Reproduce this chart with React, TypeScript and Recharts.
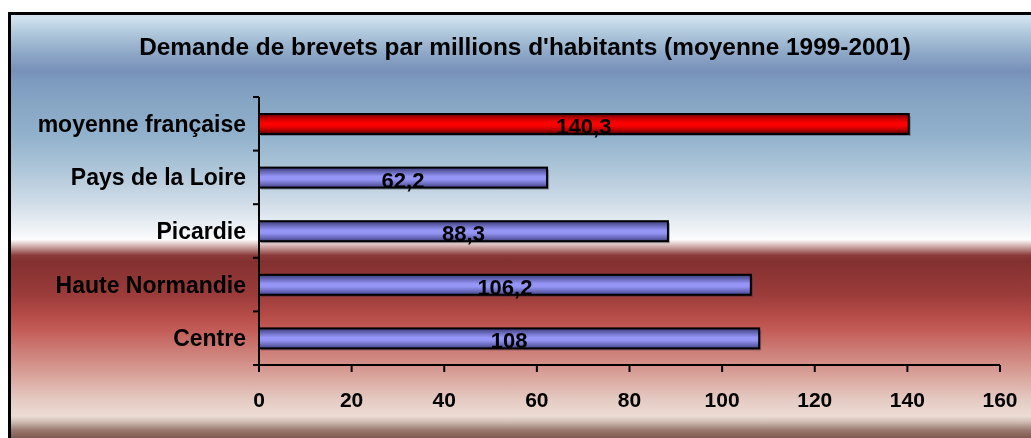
import { BarChart, Bar, XAxis, YAxis, LabelList } from 'recharts'

const categories = ['moyenne française', 'Pays de la Loire', 'Picardie', 'Haute Normandie', 'Centre']
const values = [140.3, 62.2, 88.3, 106.2, 108]
const highlighted = ['moyenne française']
const xTicks = [0, 20, 40, 60, 80, 100, 120, 140, 160]

const TITLE = "Demande de brevets par millions d'habitants (moyenne 1999-2001)"
const FONT = '"Liberation Sans", Arial, sans-serif'

const data = categories.map((name, i) => ({ name, value: values[i] }))

const BG = `linear-gradient(to bottom,
  #d0e2ee 0.7%, #b0c8dc 4.2%, #8ea8c8 8.9%, #7890b8 13.1%, #7e9cc0 16%,
  #86a6c4 20.7%, #90b0cc 27.7%, #a8c2d6 34.7%, #d0dce8 44.1%, #eef2f6 50%,
  #fcfcfc 52.6%, #f0e4e2 53.1%, #c09090 54.7%, #8a3a38 56.3%, #833030 57.7%,
  #9a3c3a 65.3%, #b44a46 70%, #c25a55 73.5%, #cc7a74 78.2%, #d8a098 84%,
  #e4cac2 90%, #ecdcd4 93.9%, #d0bcb4 95.3%, #9a7a70 97.2%, #704840 100%)`

const CAT_MARGIN = 13

function BarShape(props: any) {
  const { x, y, width, height, payload } = props
  const hot = highlighted.includes(payload.name)
  return (
    <g>
      <rect x={x + 2} y={y + 2} width={width} height={height} fill="rgba(40,40,60,0.35)" />
      <rect x={x} y={y} width={width} height={height}
        fill={hot ? 'url(#gradRed)' : 'url(#gradBlue)'} stroke="#000" strokeWidth={2} />
    </g>
  )
}

function ValueLabel(props: any) {
  const { x, y, width, height, value } = props
  return (
    <text x={x + width / 2} y={y + height / 2 + 10} textAnchor="middle"
      fontFamily={FONT} fontWeight="bold" fontSize={22} fill="#000">
      {String(value).replace('.', ',')}
    </text>
  )
}

// category label + tick marks on the band edges (ticks sit between categories)
function CatTick(props: any) {
  const { x, y, payload, index } = props
  const half = payload.offset ?? 0
  const ax = x + CAT_MARGIN
  const last = index === categories.length - 1
  return (
    <g>
      <line x1={ax - 6} x2={ax} y1={y - half} y2={y - half} stroke="#000" strokeWidth={2} />
      {last && <line x1={ax - 6} x2={ax} y1={y + half} y2={y + half} stroke="#000" strokeWidth={2} />}
      <text x={x} y={y + 8} textAnchor="end" fontFamily={FONT} fontWeight="bold" fontSize={23} fill="#000">
        {payload.value}
      </text>
    </g>
  )
}

export default function App() {
  return (
    <div style={{ position: 'fixed', left: 0, top: 0, width: 1031, height: 438, overflow: 'hidden' }}>
      <div style={{
        position: 'absolute', left: 8, top: 12, width: 1030, height: 430,
        borderTop: '3px solid #000', borderLeft: '3px solid #000', boxSizing: 'border-box',
        background: BG,
      }} />
      <div style={{
        position: 'absolute', left: 0, top: 33, width: 1050, textAlign: 'center',
        fontFamily: FONT, fontWeight: 'bold', fontSize: 24.4, color: '#000', whiteSpace: 'nowrap',
      }}>{TITLE}</div>
      <div style={{ position: 'absolute', left: 0, top: 0 }}>
        <BarChart width={1031} height={438} data={data} layout="vertical"
          margin={{ top: 97, right: 31, bottom: 33, left: 0 }}>
          <defs>
            <linearGradient id="gradBlue" x1="0" y1="0" x2="0" y2="1">
              <stop offset="0%" stopColor="#3c3c78" />
              <stop offset="20%" stopColor="#6464b4" />
              <stop offset="45%" stopColor="#9696f8" />
              <stop offset="60%" stopColor="#9494f4" />
              <stop offset="82%" stopColor="#6a6abc" />
              <stop offset="100%" stopColor="#404080" />
            </linearGradient>
            <linearGradient id="gradRed" x1="0" y1="0" x2="0" y2="1">
              <stop offset="0%" stopColor="#600000" />
              <stop offset="20%" stopColor="#c00000" />
              <stop offset="45%" stopColor="#ff0000" />
              <stop offset="60%" stopColor="#fa0000" />
              <stop offset="82%" stopColor="#b00000" />
              <stop offset="100%" stopColor="#500000" />
            </linearGradient>
          </defs>
          <XAxis type="number" domain={[0, 160]} ticks={xTicks} interval={0}
            axisLine={{ stroke: '#000', strokeWidth: 2 }}
            tickLine={{ stroke: '#000', strokeWidth: 2 }} tickSize={7} tickMargin={20} height={40}
            tick={{ fill: '#000', fontSize: 21, fontWeight: 'bold', fontFamily: FONT }} />
          <YAxis type="category" dataKey="name" width={259} interval={0}
            axisLine={{ stroke: '#000', strokeWidth: 2 }} tickLine={false} tickSize={0}
            tickMargin={CAT_MARGIN} tick={CatTick} />
          <Bar dataKey="value" barSize={20} shape={BarShape} isAnimationActive={false}>
            <LabelList dataKey="value" content={ValueLabel} />
          </Bar>
        </BarChart>
      </div>
    </div>
  )
}
